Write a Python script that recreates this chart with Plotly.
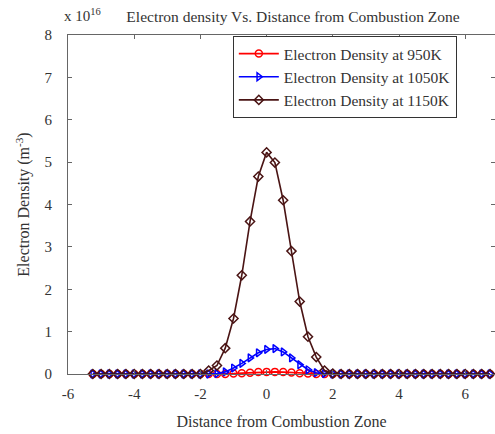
import plotly.graph_objects as go

# Distance from combustion zone
distance = [-5.25, -5.0, -4.75, -4.5, -4.25, -4.0, -3.75, -3.5, -3.25, -3.0,
            -2.75, -2.5, -2.25, -2.0, -1.75, -1.5, -1.25, -1.0, -0.75, -0.5,
            -0.25, 0.0, 0.25, 0.5, 0.75, 1.0, 1.25, 1.5, 1.75, 2.0,
            2.25, 2.5, 2.75, 3.0, 3.25, 3.5, 3.75, 4.0, 4.25, 4.5,
            4.75, 5.0, 5.25, 5.5, 5.75, 6.0, 6.25, 6.5, 6.75]

# Electron density in units of 1e16 m^-3
dens_950 = [0, 0, 0, 0, 0, 0, 0, 0, 0, 0,
            0, 0, 0, 0, 0, 0, 0, 0.01, 0.02, 0.03,
            0.045, 0.05, 0.05, 0.045, 0.035, 0.02, 0.01, 0, 0, 0,
            0, 0, 0, 0, 0, 0, 0, 0, 0, 0,
            0, 0, 0, 0, 0, 0, 0, 0, 0]
dens_1050 = [0, 0, 0, 0, 0, 0, 0, 0, 0, 0,
             0, 0, 0, 0, 0, 0.01, 0.05, 0.14, 0.25, 0.38,
             0.5, 0.58, 0.6, 0.52, 0.38, 0.22, 0.1, 0.03, 0.01, 0,
             0, 0, 0, 0, 0, 0, 0, 0, 0, 0,
             0, 0, 0, 0, 0, 0, 0, 0, 0]
dens_1150 = [0, 0, 0, 0, 0, 0, 0, 0, 0, 0,
             0, 0, 0, 0, 0.08, 0.2, 0.61, 1.31, 2.33, 3.6,
             4.66, 5.23, 4.99, 4.1, 2.9, 1.71, 0.88, 0.4, 0.08, 0.01,
             0, 0, 0, 0, 0, 0, 0, 0, 0, 0,
             0, 0, 0, 0, 0, 0, 0, 0, 0]

series_names = ["Electron Density at 950K", "Electron Density at 1050K", "Electron Density at 1150K"]
x_ticks = [-6, -4, -2, 0, 2, 4, 6]
x_tick_labels = ["-6", "-4", "-2", "0", "2", "4", "6"]
y_ticks = [0, 1, 2, 3, 4, 5, 6, 7, 8]
y_tick_labels = ["0", "1", "2", "3", "4", "5", "6", "7", "8"]

FONT = "Liberation Serif, Times New Roman, serif"
TXT = "#333333"

fig = go.Figure()
styles = [
    (dens_950, "#ff0000", "circle-open"),
    (dens_1050, "#0000ff", "triangle-right-open"),
    (dens_1150, "#4a1414", "diamond-open"),
]
for name, (vals, col, sym) in zip(series_names, styles):
    fig.add_trace(go.Scatter(
        x=distance, y=vals, name=name, mode="lines+markers",
        line=dict(color=col, width=1.6),
        marker=dict(symbol=sym, size=7, color=col, line=dict(width=1.5, color=col)),
        cliponaxis=False,
    ))

axis_common = dict(
    showgrid=False, zeroline=False, showline=True, linecolor="#666", linewidth=1.2,
    mirror="ticks", ticks="inside", ticklen=4, tickcolor="#666",
    tickfont=dict(family=FONT, size=15, color=TXT),
)
fig.update_xaxes(range=[-6, 6.9], tickvals=x_ticks, ticktext=x_tick_labels,
                 ticklabelstandoff=6, **axis_common,
                 title=dict(text="Distance from Combustion Zone",
                            font=dict(family=FONT, size=16, color=TXT), standoff=14))
fig.update_yaxes(range=[0, 8], tickvals=y_ticks, ticktext=y_tick_labels,
                 ticklabelstandoff=12, **axis_common,
                 title=dict(text="Electron Density (m<sup>-3</sup>)",
                            font=dict(family=FONT, size=16, color=TXT), standoff=10))

fig.update_layout(
    width=495, height=434,
    margin=dict(l=68, r=0, t=35, b=60),
    paper_bgcolor="white", plot_bgcolor="white",
    font=dict(family=FONT, size=15, color=TXT),
    title=dict(text="Electron density Vs. Distance from Combustion Zone",
               x=0.592, xanchor="center", y=0.962, yanchor="middle",
               font=dict(family=FONT, size=15.5, color=TXT)),
    legend=dict(x=0.386, y=0.997, xanchor="left", yanchor="top",
                bordercolor="#333", borderwidth=1, bgcolor="white",
                font=dict(family=FONT, size=15.5, color=TXT),
                tracegroupgap=0, itemwidth=40),
    showlegend=True,
)
fig.add_annotation(text="x 10<sup>16</sup>", xref="paper", yref="paper",
                   x=-0.015, y=1.06, xanchor="left", yanchor="middle", showarrow=False,
                   font=dict(family=FONT, size=15, color=TXT))

fig.write_html("out.html")
